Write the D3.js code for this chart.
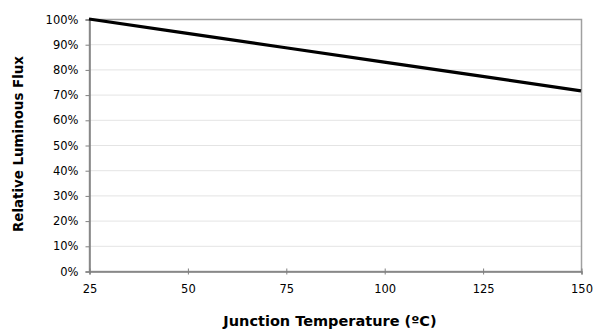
<!DOCTYPE html>
<html><head><meta charset="utf-8">
<script src="https://cdn.jsdelivr.net/npm/d3@7"></script>
<style>body{margin:0;background:#fff;} svg{display:block;}</style>
</head><body>
<svg id="c" width="597" height="330"></svg>
<script>
const temps = [25, 50, 75, 100, 125, 150];
const flux = [100, 94.3, 88.6, 82.9, 77.2, 71.5];
const xTicks = [25, 50, 75, 100, 125, 150];
const yTicks = [0, 10, 20, 30, 40, 50, 60, 70, 80, 90, 100];
const xTitle = "Junction Temperature (ºC)";
const yTitle = "Relative Luminous Flux";

const svg = d3.select("#c");
const L = 89, R = 581, T = 19, B = 271;
const x = d3.scaleLinear().domain([25, 150]).range([L, R]);
const y = d3.scaleLinear().domain([0, 100]).range([B, T]);
const font = "DejaVu Sans, Verdana, sans-serif";

// gridlines
svg.append("g").selectAll("line").data(yTicks.filter(d => d > 0)).join("line")
  .attr("x1", L).attr("x2", R).attr("y1", d => y(d) + 0.5).attr("y2", d => y(d) + 0.5)
  .attr("stroke", "#e4e4e4").attr("stroke-width", 1);

// border
svg.append("rect").attr("x", L + 0.5).attr("y", T + 0.5).attr("width", R - L).attr("height", B - T)
  .attr("fill", "none").attr("stroke", "#a0a0a0").attr("stroke-width", 1.5);

// y axis
const ya = svg.append("g").attr("transform", `translate(${L + 0.5},0.5)`)
  .call(d3.axisLeft(y).tickValues(yTicks).tickFormat(d => d + "%").tickSize(4).tickPadding(7));
ya.select(".domain").attr("stroke", "#808080").attr("stroke-width", 1.5);
ya.selectAll(".tick line").attr("stroke", "#808080");
ya.selectAll("text").attr("font-family", font).attr("font-size", 11.5).attr("fill", "#000");

// x axis
const xa = svg.append("g").attr("transform", `translate(0.5,${B + 0.5})`)
  .call(d3.axisBottom(x).tickValues(xTicks).tickSize(3).tickPadding(10));
xa.select(".domain").attr("stroke", "#808080").attr("stroke-width", 1.5);
xa.selectAll(".tick line").attr("stroke", "#808080").attr("y1", -3);
xa.selectAll("text").attr("font-family", font).attr("font-size", 11.5).attr("fill", "#000");

// line
svg.append("path").datum(temps.map((t, i) => [t, flux[i]]))
  .attr("fill", "none").attr("stroke", "#000").attr("stroke-width", 3.2)
  .attr("d", d3.line().x(d => x(d[0])).y(d => y(d[1])));

// titles
svg.append("text").attr("x", 330).attr("y", 326).attr("text-anchor", "middle")
  .attr("font-family", font).attr("font-weight", "bold").attr("font-size", 14.5)
  .text(xTitle);
svg.append("text").attr("transform", "translate(22.5,144) rotate(-90)").attr("text-anchor", "middle")
  .attr("font-family", font).attr("font-weight", "bold").attr("font-size", 13.4)
  .text(yTitle);
</script>
</body></html>
